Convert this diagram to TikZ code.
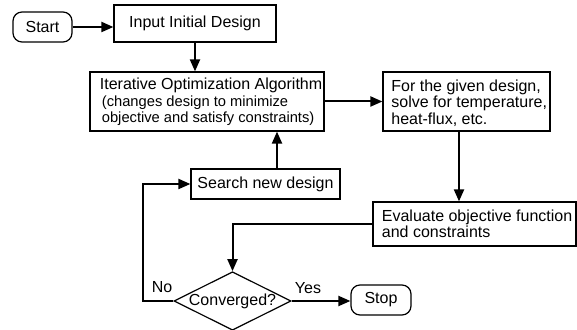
\documentclass[tikz,border=0pt]{standalone}
\usepackage{fontspec}
\setmainfont{Liberation Sans}
\usetikzlibrary{shapes.geometric,arrows.meta}
\newcommand{\subtext}{\fontsize{7.35}{8.1}\selectfont}
\begin{document}
\begin{tikzpicture}[x=0.5pt,y=-0.5pt,
  font=\fontsize{8}{8.25}\selectfont,
  box/.style={draw, line width=0.6pt, inner sep=0pt, rectangle},
  term/.style={box, rounded corners=4.5pt},
  boxtext/.style={anchor=west, align=left, inner sep=0pt},
  decision/.style={draw, line width=0.6pt, shape=diamond, aspect=2, inner sep=0pt,
                   minimum width=58.5pt, minimum height=29pt},
  flow/.style={line width=1pt, -{Triangle[length=6pt,width=5pt]}}]
\useasboundingbox (0,0) rectangle (577,330);

% process boxes
\node[term, minimum width=29.5pt, minimum height=15pt] (start) at (42.5,27) {Start};
\node[box, minimum width=81pt, minimum height=18.5pt] (input) at (195,23.5) {Input Initial Design};
\node[box, minimum width=117pt, minimum height=29.5pt] (iter) at (207,101.5) {};
\node[boxtext] (itertext) at (99.5,102)
  {Iterative Optimization Algorithm\\
   {\subtext\hspace*{1pt}(changes design to minimize}\\
   {\subtext\hspace*{1pt}objective and satisfy constraints)}};
\node[box, minimum width=83.5pt, minimum height=29.5pt] (solve) at (466.5,101.5) {};
\node[boxtext] (solvetext) at (391,103)
  {For the given design,\\solve for temperature,\\heat-flux, etc.};
\node[box, minimum width=74.5pt, minimum height=15pt] (search) at (265.5,184) {Search new design};
\node[box, minimum width=101.5pt, minimum height=22pt] (eval) at (474.5,224) {};
\node[boxtext] (evaltext) at (381.5,224) {Evaluate objective function\\and constraints};
\node[decision] (conv) at (232.5,301) {Converged?};
\node[term, minimum width=30pt, minimum height=15pt] (stop) at (381,300) {Stop};

% branch labels
\node (no) at (162,287) {No};
\node (yes) at (308,288) {Yes};

% helper points for the loop-back routes
\coordinate (solveout) at ([xshift=-3.75pt]solve.south);
\coordinate (searchout) at ([xshift=5.75pt]search.north);
\coordinate (nocorner) at (143,301);

% connectors
\draw[flow] (start.east) -- (start.east -| input.west);
\draw[flow] (input.south) -- (input.south |- iter.north);
\draw[flow] (iter.east) -- (iter.east -| solve.west);
\draw[flow] (solveout) -- (solveout |- eval.north);
\draw[flow] (eval.west) -| (conv.north);
\draw[flow] (conv.east) -- (conv.east -| stop.west);
\draw[flow] (conv.west) -- (nocorner) |- (search.west);
\draw[flow] (searchout) -- (searchout |- iter.south);
\end{tikzpicture}
\end{document}
